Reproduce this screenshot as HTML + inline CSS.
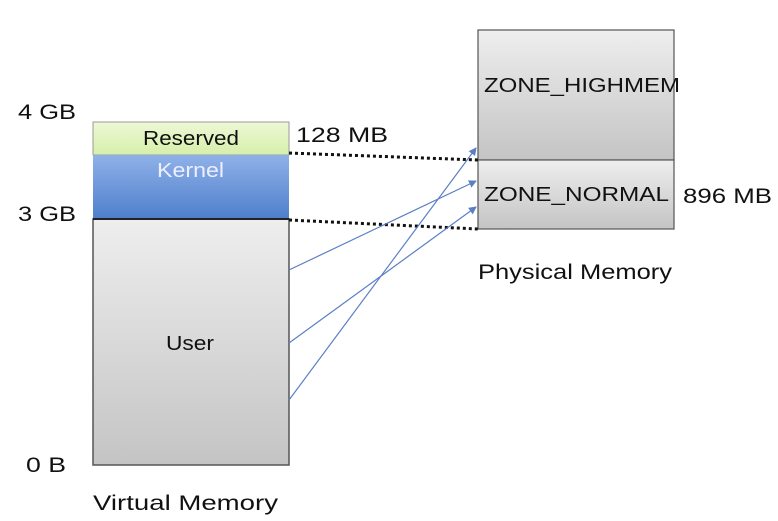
<!DOCTYPE html>
<html><head><style>
body{margin:0;width:778px;height:516px;background:#fff;overflow:hidden;font-family:"Liberation Sans",sans-serif;}
</style></head><body>
<svg width="778" height="516" xmlns="http://www.w3.org/2000/svg" font-family="Liberation Sans, sans-serif">
<defs>
<linearGradient id="g" x1="0" y1="0" x2="0" y2="1"><stop offset="0" stop-color="#eeeeee"/><stop offset="1" stop-color="#c4c4c4"/></linearGradient>
<linearGradient id="k" x1="0" y1="0" x2="0" y2="1"><stop offset="0" stop-color="#8fb1e8"/><stop offset="1" stop-color="#4f7fcc"/></linearGradient>
<linearGradient id="r" x1="0" y1="0" x2="0" y2="1"><stop offset="0" stop-color="#eef8d6"/><stop offset="1" stop-color="#d6efaa"/></linearGradient>
<marker id="a" markerWidth="8" markerHeight="8" refX="7" refY="4" orient="auto" markerUnits="userSpaceOnUse"><path d="M0,0 L8,4 L0,8 z" fill="#5b7fc4"/></marker>
</defs>
<rect x="93" y="122" width="196" height="33" fill="url(#r)" stroke="#999" stroke-width="1"/>
<rect x="93" y="155" width="196" height="64" fill="url(#k)"/>
<rect x="93" y="219" width="196" height="246" fill="url(#g)" stroke="#555" stroke-width="1.5"/>
<line x1="93" y1="219" x2="289" y2="219" stroke="#222" stroke-width="2"/>
<rect x="478" y="30" width="196" height="130" fill="url(#g)" stroke="#555" stroke-width="1.2"/>
<rect x="478" y="160" width="196" height="69" fill="url(#g)" stroke="#555" stroke-width="1.2"/>
<line x1="289" y1="153" x2="478" y2="160" stroke="#111" stroke-width="3" stroke-dasharray="3,3"/>
<line x1="289" y1="220" x2="478" y2="229" stroke="#111" stroke-width="3" stroke-dasharray="3,3"/>
<line x1="289" y1="270" x2="476" y2="181" stroke="#5b7fc4" stroke-width="1.2" marker-end="url(#a)"/>
<line x1="289" y1="343" x2="476" y2="207" stroke="#5b7fc4" stroke-width="1.2" marker-end="url(#a)"/>
<line x1="289" y1="400" x2="476" y2="148" stroke="#5b7fc4" stroke-width="1.2" marker-end="url(#a)"/>
<g font-size="21" fill="#111">
<text x="18" y="119" textLength="58" lengthAdjust="spacingAndGlyphs">4 GB</text>
<text x="18" y="221" textLength="58" lengthAdjust="spacingAndGlyphs">3 GB</text>
<text x="26" y="472" textLength="40" lengthAdjust="spacingAndGlyphs">0 B</text>
<text x="93" y="510" textLength="185" lengthAdjust="spacingAndGlyphs">Virtual Memory</text>
<text x="478" y="279" textLength="194" lengthAdjust="spacingAndGlyphs">Physical Memory</text>
<text x="296" y="142" textLength="92" lengthAdjust="spacingAndGlyphs">128 MB</text>
<text x="683" y="203" textLength="89" lengthAdjust="spacingAndGlyphs">896 MB</text>
<text x="143" y="145" font-size="20" textLength="96" lengthAdjust="spacingAndGlyphs">Reserved</text>
<text x="157" y="177" font-size="20" fill="#eef" textLength="67" lengthAdjust="spacingAndGlyphs">Kernel</text>
<text x="166" y="350" font-size="20" textLength="48" lengthAdjust="spacingAndGlyphs">User</text>
<text x="484" y="92" font-size="20" textLength="196" lengthAdjust="spacingAndGlyphs">ZONE_HIGHMEM</text>
<text x="484" y="201" font-size="20" textLength="185" lengthAdjust="spacingAndGlyphs">ZONE_NORMAL</text>
</g>
</svg>
</body></html>
